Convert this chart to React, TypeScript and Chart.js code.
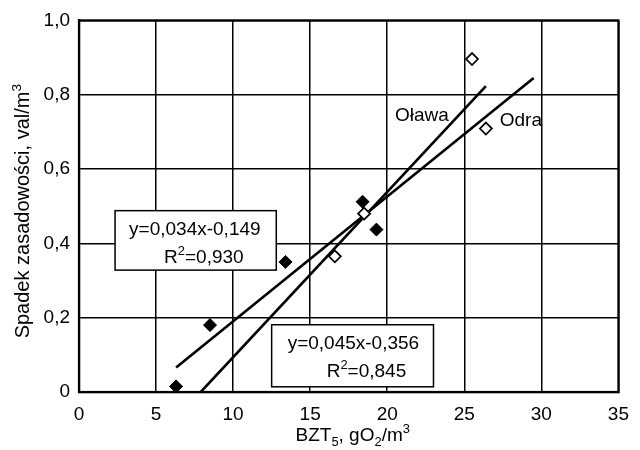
import React, { useEffect, useRef } from 'react';
import { Chart, registerables } from 'chart.js';

Chart.register(...registerables);

// ---- data ----
const odraX = [6.3, 8.5, 13.4, 18.4, 19.3];
const odraY = [0.015, 0.18, 0.35, 0.512, 0.437];
const olawaX = [16.6, 18.5, 25.5, 26.4];
const olawaY = [0.365, 0.48, 0.896, 0.709];
const odraLineX = [6.3, 29.5];
const odraLineY = [0.066, 0.845];
const olawaLineX = [7.9, 26.4];
const olawaLineY = [0.0, 0.823];
const xTickValues = [0, 5, 10, 15, 20, 25, 30, 35];
const yTickLabels = ['0', '0,2', '0,4', '0,6', '0,8', '1,0'];
const odraEq = 'y=0,034x-0,149';
const odraR2 = '=0,930';
const olawaEq = 'y=0,045x-0,356';
const olawaR2 = '=0,845';
const seriesNames = ['Odra', 'Oława'];

const FONT = "'Liberation Sans', Arial, Helvetica, sans-serif";

type Seg = { t: string; k?: 'sub' | 'sup' };

function drawRich(ctx: CanvasRenderingContext2D, segs: Seg[], x: number, y: number, size: number, align: 'left' | 'center') {
  const small = size * 0.68;
  let w = 0;
  for (const s of segs) {
    ctx.font = `${s.k ? small : size}px ${FONT}`;
    w += ctx.measureText(s.t).width;
  }
  let cx = align === 'center' ? x - w / 2 : x;
  ctx.textAlign = 'left';
  ctx.textBaseline = 'alphabetic';
  for (const s of segs) {
    ctx.font = `${s.k ? small : size}px ${FONT}`;
    const dy = s.k === 'sub' ? size * 0.28 : s.k === 'sup' ? -size * 0.42 : 0;
    ctx.fillText(s.t, cx, y + dy);
    cx += ctx.measureText(s.t).width;
  }
}

const overlayPlugin = {
  id: 'overlay',
  afterDraw(chart: any) {
    const ctx: CanvasRenderingContext2D = chart.ctx;
    const xs = chart.scales.x;
    const ys = chart.scales.y;
    const a = chart.chartArea;
    ctx.save();
    // frame
    ctx.strokeStyle = '#000';
    ctx.lineWidth = 2.2;
    ctx.strokeRect(a.left, a.top, a.right - a.left, a.bottom - a.top);

    // equation boxes
    const boxes = [
      { x0: 2.34, x1: 12.8, y0: 0.488, y1: 0.328, l1dx: 14, l2dx: 49, eq: odraEq, r2: odraR2 },
      { x0: 12.5, x1: 23.0, y0: 0.181, y1: 0.014, l1dx: 16, l2dx: 55, eq: olawaEq, r2: olawaR2 },
    ];
    for (const b of boxes) {
      const left = xs.getPixelForValue(b.x0);
      const right = xs.getPixelForValue(b.x1);
      const top = ys.getPixelForValue(b.y0);
      const bottom = ys.getPixelForValue(b.y1);
      ctx.fillStyle = '#fff';
      ctx.fillRect(left, top, right - left, bottom - top);
      ctx.strokeStyle = '#000';
      ctx.lineWidth = 1.5;
      ctx.strokeRect(left, top, right - left, bottom - top);
      ctx.fillStyle = '#000';
      drawRich(ctx, [{ t: b.eq }], left + b.l1dx, top + 24, 19, 'left');
      drawRich(ctx, [{ t: 'R' }, { t: '2', k: 'sup' }, { t: b.r2 }], left + b.l2dx, top + 52, 19, 'left');
    }

    // series labels
    ctx.fillStyle = '#000';
    drawRich(ctx, [{ t: seriesNames[1] }], xs.getPixelForValue(20.5), ys.getPixelForValue(0.728), 19, 'left');
    drawRich(ctx, [{ t: seriesNames[0] }], xs.getPixelForValue(27.3), ys.getPixelForValue(0.717), 19, 'left');

    // axis titles
    const midX = (a.left + a.right) / 2 + 4;
    drawRich(
      ctx,
      [{ t: 'BZT' }, { t: '5', k: 'sub' }, { t: ', gO' }, { t: '2', k: 'sub' }, { t: '/m' }, { t: '3', k: 'sup' }],
      midX,
      441,
      19,
      'center'
    );
    ctx.save();
    ctx.translate(29, (a.top + a.bottom) / 2 + 5);
    ctx.rotate(-Math.PI / 2);
    drawRich(ctx, [{ t: 'Spadek zasadowości, val/m' }, { t: '3', k: 'sup' }], 0, 0, 20, 'center');
    ctx.restore();
    ctx.restore();
  },
};

export default function App() {
  const ref = useRef<HTMLCanvasElement | null>(null);
  useEffect(() => {
    if (!ref.current) return;
    const pts = (xs: number[], ys: number[]) => xs.map((x, i) => ({ x, y: ys[i] }));
    const chart = new Chart(ref.current, {
      type: 'scatter',
      data: {
        datasets: [
          {
            label: seriesNames[0],
            data: pts(odraX, odraY),
            pointStyle: 'rectRot',
            pointRadius: 6.5,
            backgroundColor: '#000',
            borderColor: '#000',
            borderWidth: 1,
          },
          {
            label: seriesNames[1],
            data: pts(olawaX, olawaY),
            pointStyle: 'rectRot',
            pointRadius: 6,
            backgroundColor: '#fff',
            borderColor: '#000',
            borderWidth: 1.7,
          },
          {
            label: seriesNames[0] + ' trend',
            data: pts(odraLineX, odraLineY),
            showLine: true,
            pointRadius: 0,
            borderColor: '#000',
            borderWidth: 2.6,
          },
          {
            label: seriesNames[1] + ' trend',
            data: pts(olawaLineX, olawaLineY),
            showLine: true,
            pointRadius: 0,
            borderColor: '#000',
            borderWidth: 2.6,
          },
        ],
      } as any,
      options: {
        responsive: false,
        animation: false,
        layout: { padding: { left: 0, right: 8, top: 16, bottom: 0 } },
        plugins: { legend: { display: false }, tooltip: { enabled: false } },
        scales: {
          x: {
            type: 'linear',
            min: 0,
            max: 35,
            afterBuildTicks: (s: any) => {
              s.ticks = xTickValues.map((v) => ({ value: v }));
            },
            afterFit: (s: any) => {
              s.height = 58;
            },
            ticks: {
              color: '#000',
              padding: 11,
              font: { family: FONT, size: 19 },
              callback: (v: any) => String(v),
            },
            grid: { color: '#000', lineWidth: 1.5, drawTicks: false },
            border: { color: '#000', width: 2.2 },
          },
          y: {
            type: 'linear',
            min: 0,
            max: 1,
            afterBuildTicks: (s: any) => {
              s.ticks = yTickLabels.map((_, i) => ({ value: i * 0.2 }));
            },
            afterFit: (s: any) => {
              s.width = 79;
            },
            ticks: {
              color: '#000',
              padding: 9,
              font: { family: FONT, size: 19 },
              callback: (_v: any, i: number) => yTickLabels[i],
            },
            grid: { color: '#000', lineWidth: 1.5, drawTicks: false },
            border: { color: '#000', width: 2.2 },
          },
        },
      } as any,
      plugins: [overlayPlugin],
    });
    return () => chart.destroy();
  }, []);
  return (
    <div style={{ position: 'fixed', left: 0, top: 0, width: 640, height: 450, background: '#fff' }}>
      <canvas ref={ref} width={640} height={450} style={{ display: 'block', width: 640, height: 450 }} />
    </div>
  );
}
